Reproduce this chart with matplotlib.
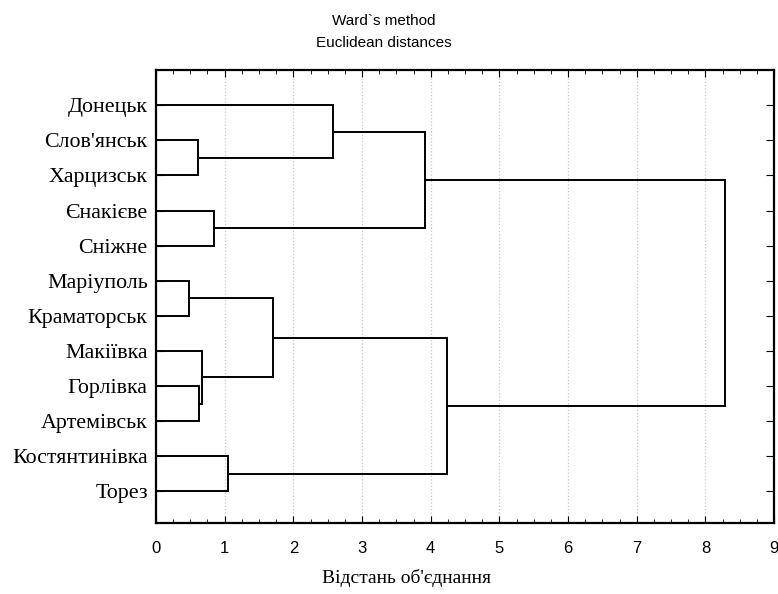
import matplotlib
matplotlib.use('Agg')
import matplotlib.pyplot as plt
from matplotlib.ticker import MultipleLocator

# міста в порядку листків дендрограми (згори вниз)
cities = ['Донецьк', "Слов'янськ", 'Харцизськ', 'Єнакієве', 'Сніжне',
          'Маріуполь', 'Краматорськ', 'Макіївка', 'Горлівка', 'Артемівськ',
          'Костянтинівка', 'Торез']

# об'єднання: (кластер a, кластер b, відстань); нові кластери мають номери 12, 13, ...
merge_a = [1, 0, 3, 13, 5, 8, 7, 16, 10, 19, 15]
merge_b = [2, 12, 4, 14, 6, 9, 17, 18, 11, 20, 21]
merge_h = [0.61, 2.58, 0.85, 3.91, 0.48, 0.63, 0.67, 1.70, 1.05, 4.24, 8.29]

pos = {i: i + 1 for i in range(len(cities))}
height = {i: 0.0 for i in range(len(cities))}

fig = plt.figure(figsize=(7.78, 5.94), dpi=100)
ax = fig.add_axes([0.2005, 0.1195, 0.7945, 0.7625])

for k, (a, b, h) in enumerate(zip(merge_a, merge_b, merge_h)):
    ya, yb = pos[a], pos[b]
    ax.plot([height[a], h, h, height[b]], [ya, ya, yb, yb],
            color='black', lw=1.4, solid_joinstyle='miter')
    new = len(cities) + k
    pos[new] = (ya + yb) / 2
    height[new] = h

ax.set_xlim(0, 9)
ax.set_ylim(12.9, 0)
ax.set_yticks(range(1, len(cities) + 1))
ax.set_yticklabels(cities, family='Liberation Serif', fontsize=15.8)
ax.xaxis.set_major_locator(MultipleLocator(1))
ax.xaxis.set_minor_locator(MultipleLocator(0.25))
ax.tick_params(axis='x', which='both', direction='in', top=True, bottom=True,
               labelsize=12, pad=13)
ax.tick_params(axis='x', which='major', length=5)
ax.tick_params(axis='x', which='minor', length=3)
ax.tick_params(axis='y', direction='in', left=True, right=True, length=6, pad=6)
for lbl in ax.get_xticklabels():
    lbl.set_family('Liberation Sans')
ax.grid(axis='x', color='#c8c8c8', linestyle=':', lw=0.9)
for s in ax.spines.values():
    s.set_linewidth(1.6)

fig.text(0.493, 0.965, 'Ward`s method', ha='center', va='center',
         family='Liberation Sans', fontsize=11)
fig.text(0.493, 0.927, 'Euclidean distances', ha='center', va='center',
         family='Liberation Sans', fontsize=11)
fig.text(0.523, 0.027, "Відстань об'єднання", ha='center', va='center',
         family='Liberation Serif', fontsize=14)

fig.savefig('out.png', dpi=100)
